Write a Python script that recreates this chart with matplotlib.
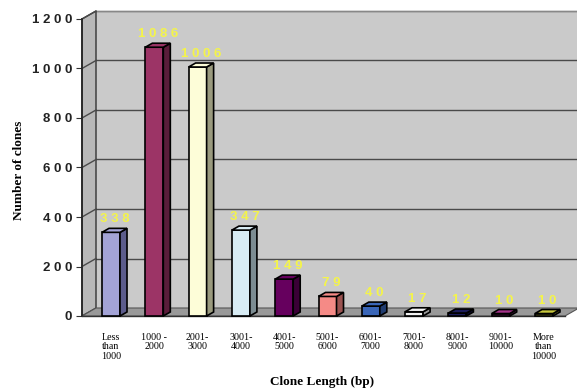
import matplotlib
matplotlib.use("Agg")
import matplotlib.pyplot as plt
from matplotlib.patches import Polygon, Rectangle

categories = ["Less\nthan\n1000", "1000 -\n2000", "2001-\n3000", "3001-\n4000",
              "4001-\n5000", "5001-\n6000", "6001-\n7000", "7001-\n8000",
              "8001-\n9000", "9001-\n10000", "More\nthan\n10000"]
counts = [338, 1086, 1006, 347, 149, 79, 40, 17, 12, 10, 10]
yticks = [0, 200, 400, 600, 800, 1000, 1200]

front_colors = ["#a3a3d6", "#9c3466", "#fdfdd8", "#d8ecf4", "#66005e", "#f58a86",
                "#3a66b8", "#f2f2f2", "#1c1c5a", "#a5328a", "#c8c83c"]
side_colors = ["#5c5c8c", "#5a1d3a", "#9a9a7e", "#7c8c92", "#3a0036", "#9a5250",
               "#203c70", "#9a9a9a", "#0c0c30", "#601c50", "#7c7c20"]

W, H = 577, 390
fig = plt.figure(figsize=(W / 100, H / 100), dpi=100)
fig.patch.set_facecolor("white")

# front plane of the 3d box in pixels
left_px, right_px, bot_px, top_px = 82, 565, 316, 19
ax = fig.add_axes([left_px / W, 1 - bot_px / H, (right_px - left_px) / W, (bot_px - top_px) / H])
xl, xr = -0.67, 10.485
ax.set_xlim(xl, xr)
ax.set_ylim(0, 1200)
ax.set_facecolor("none")
for s in ax.spines.values():
    s.set_visible(False)

ppx = (right_px - left_px) / (xr - xl)   # pixels per x unit
ppy = (bot_px - top_px) / 1200.0         # pixels per y unit
def ox(px):
    return px / ppx
def oy(px):
    return px / ppy

dx, dy = ox(14), oy(8)       # wall depth
grid_c = "#4a4a4a"

# back wall
far_right = xr + ox(40)
ax.add_patch(Polygon([(xl + dx, dy), (far_right, dy), (far_right, 1200 + dy), (xl + dx, 1200 + dy)],
                     closed=True, facecolor="#cacaca", edgecolor="none", clip_on=False, zorder=0))
# side wall
ax.add_patch(Polygon([(xl, 0), (xl + dx, dy), (xl + dx, 1200 + dy), (xl, 1200)],
                     closed=True, facecolor="#b8b8b8", edgecolor="#333333", lw=1.0, clip_on=False, zorder=1))
# floor
ax.add_patch(Polygon([(xl, 0), (xr, 0), (xr + dx, dy), (xl + dx, dy)],
                     closed=True, facecolor="#999999", edgecolor="#555555", lw=0.8, clip_on=False, zorder=1))

for t in yticks[1:]:
    ax.plot([xl + dx, far_right], [t + dy, t + dy], color=grid_c, lw=1.0, clip_on=False, zorder=0.5)
    ax.plot([xl, xl + dx], [t, t + dy], color=grid_c, lw=1.0, clip_on=False, zorder=1.5)
ax.plot([xl + dx, far_right], [1200 + dy, 1200 + dy], color="#888888", lw=0.8, clip_on=False, zorder=0.5)
ax.plot([xl, xl], [0, 1200], color="#222222", lw=1.2, clip_on=False, zorder=2)
ax.plot([xl, xr], [0, 0], color="#333333", lw=1.0, clip_on=False, zorder=2)

# bars with a bit of depth
bw = ox(18)
bdx, bdy = ox(7), oy(4)
for i, v in enumerate(counts):
    x0 = i - bw / 2
    ax.add_patch(Rectangle((x0, 0), bw, v, facecolor=front_colors[i], edgecolor="black",
                           lw=1.2, zorder=3, clip_on=False))
    ax.add_patch(Polygon([(x0 + bw, 0), (x0 + bw + bdx, bdy), (x0 + bw + bdx, v + bdy), (x0 + bw, v)],
                         closed=True, facecolor=side_colors[i], edgecolor="black", lw=1.2,
                         zorder=3, clip_on=False))
    ax.add_patch(Polygon([(x0, v), (x0 + bdx, v + bdy), (x0 + bw + bdx, v + bdy), (x0 + bw, v)],
                         closed=True, facecolor=front_colors[i], edgecolor="black", lw=1.2,
                         zorder=3, clip_on=False))
    ax.text(i + bdx / 2, v + oy(13), " ".join(str(v)), ha="center", va="center",
            color="#f4f44a", fontsize=9.5, fontweight="bold", family="Liberation Sans",
            zorder=4, clip_on=False)

ax.set_yticks(yticks)
ax.set_yticklabels([" ".join(str(t)) for t in yticks], fontsize=9.5, fontweight="bold",
                   family="Liberation Sans", color="#222222")
ax.tick_params(axis="y", length=4, width=0.8, color="#333333", pad=3)

ax.set_xticks(range(len(categories)))
ax.set_xticklabels(categories, fontsize=7.2, family="Liberation Serif", linespacing=1.1)
ax.tick_params(axis="x", length=0, pad=12)

fig.text(19 / W, 1 - 170 / H, "Number of clones", rotation=90, ha="center", va="center",
         fontsize=9.5, fontweight="bold", family="Liberation Serif")
fig.text(322 / W, 1 - 382 / H, "Clone Length (bp)", ha="center", va="center",
         fontsize=9.5, fontweight="bold", family="Liberation Serif")

fig.savefig("out.png", dpi=100)
